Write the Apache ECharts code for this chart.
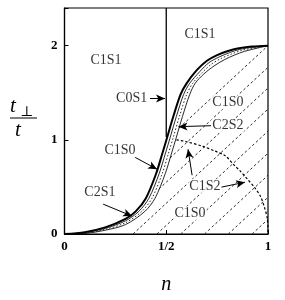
<!DOCTYPE html>
<html><head><meta charset="utf-8">
<script src="https://cdn.jsdelivr.net/npm/echarts@6/dist/echarts.min.js"></script>
<style>html,body{margin:0;padding:0;background:#fff}#c{width:285px;height:300px}</style>
</head><body><div id="c"></div>
<script>
// ---- data ----
var xTickValues = [0, 0.5, 1];
var xTickLabels = ['0', '1/2', '1'];
var yTickValues = [0, 1, 2];
var yTickLabels = ['0', '1', '2'];

// outer (thick) boundary curve
var thickN = [0,0.1,0.2,0.3,0.35,0.4,0.45,0.48,0.505,0.535,0.57,0.6,0.65,0.7,0.75,0.8,0.85,0.92,1];
var thickY = [0,0.02,0.07,0.16,0.24,0.38,0.64,0.85,1.03,1.25,1.48,1.6,1.74,1.84,1.9,1.94,1.97,1.99,2];
// thin curve
var thinBN = [0,0.1,0.2,0.3,0.365,0.415,0.465,0.495,0.52,0.55,0.585,0.615,0.665,0.71,0.76,0.81,0.86,0.93,1];
var thinBY = [0,0.015,0.06,0.14,0.24,0.38,0.64,0.85,1.03,1.25,1.48,1.6,1.725,1.82,1.88,1.925,1.96,1.985,2];
// dotted curve
var dotCN = [0,0.1,0.2,0.3,0.38,0.43,0.48,0.51,0.535,0.565,0.6,0.63,0.675,0.72,0.77,0.82,0.87,0.94,1];
var dotCY = [0,0.01,0.05,0.12,0.24,0.38,0.64,0.85,1.03,1.25,1.48,1.6,1.71,1.8,1.865,1.91,1.95,1.98,2];
// inner thin curve
var thinDN = [0,0.1,0.2,0.3,0.395,0.445,0.495,0.525,0.55,0.58,0.615,0.642,0.685,0.735,0.785,0.835,0.885,0.95,1];
var thinDY = [0,0.006,0.04,0.10,0.24,0.38,0.64,0.85,1.03,1.25,1.48,1.6,1.7,1.785,1.85,1.9,1.94,1.975,2];
// vertical boundary at n = 1/2
var vertN = [0.5, 0.5];
var vertY = [1.03, 2.4];
// C1S2 dashed boundary
var c1s2N = [0.55,0.6,0.68,0.74,0.79,0.83,0.865,0.9,0.933,0.963,0.983,0.997,1.0];
var c1s2Y = [1.0,0.98,0.93,0.88,0.83,0.74,0.665,0.58,0.497,0.40,0.28,0.16,0.02];
// hatch lines: t/t = 2 (n - c)
var hatchSlope = 2;
var hatchC = [0, 0.115, 0.225, 0.337, 0.454, 0.571, 0.688, 0.805, 0.922];

// region labels
var labelText = ['C1S1','C1S1','C0S1','C1S0','C2S2','C1S0','C2S1','C1S2','C1S0'];
var labelN    = [0.204, 0.666, 0.33, 0.803, 0.803, 0.273, 0.174, 0.69, 0.617];
var labelY    = [1.84, 2.12, 1.44, 1.40, 1.15, 0.89, 0.44, 0.51, 0.22];
// annotation arrows [from -> to]
var arrowFromN = [0.42, 0.72, 0.346, 0.19, 0.77, 0.627];
var arrowFromY = [1.44, 1.15, 0.815, 0.317, 0.497, 0.624];
var arrowToN   = [0.494, 0.56, 0.455, 0.332, 0.887, 0.607];
var arrowToY   = [1.44, 1.14, 0.688, 0.19, 0.55, 0.90];
var arrowCurve = [0, 0.12, 0.35, 0.3, 0.05, -0.4];

function zip(a, b) { return a.map(function (v, i) { return [v, b[i]]; }); }

// hatch line start: last crossing with inner curve, else bottom
function hatchSegment(c) {
  var start = [c, 0];
  for (var i = 0; i < thinDN.length - 1; i++) {
    var x1 = thinDN[i], y1 = thinDY[i], x2 = thinDN[i+1], y2 = thinDY[i+1];
    var f1 = y1 - hatchSlope * (x1 - c), f2 = y2 - hatchSlope * (x2 - c);
    if (f1 < 0 && f2 >= 0) {
      var t = f1 / (f1 - f2);
      var xs = x1 + t * (x2 - x1);
      if (xs > c) start = [xs, hatchSlope * (xs - c)];
    }
  }
  return [start, [1, hatchSlope * (1 - c)]];
}

var serif = '"Liberation Serif","DejaVu Serif",serif';
var series = [];
hatchC.forEach(function (c) {
  series.push({ type: 'line', data: hatchSegment(c), symbol: 'none', silent: true,
    lineStyle: { color: '#111', width: 0.9, type: [2.5, 2.5] }, z: 1 });
});
series.push({ type: 'line', data: zip(c1s2N, c1s2Y), symbol: 'none', smooth: 0.3,
  lineStyle: { color: '#000', width: 1.2, type: [2.5, 2] }, z: 2 });
series.push({ type: 'line', data: zip(thinDN, thinDY), symbol: 'none', smooth: 0.3,
  lineStyle: { color: '#111', width: 0.9 }, z: 3 });
series.push({ type: 'line', data: zip(dotCN, dotCY), symbol: 'none', smooth: 0.3,
  lineStyle: { color: '#111', width: 0.9, type: [1.5, 2] }, z: 3 });
series.push({ type: 'line', data: zip(thinBN, thinBY), symbol: 'none', smooth: 0.3,
  lineStyle: { color: '#111', width: 0.9 }, z: 3 });
series.push({ type: 'line', data: zip(thickN, thickY), symbol: 'none', smooth: 0.3,
  lineStyle: { color: '#000', width: 2 }, z: 4 });
series.push({ type: 'line', data: zip(vertN, vertY), symbol: 'none',
  lineStyle: { color: '#000', width: 1.3 }, z: 4 });

// labels
series.push({ type: 'scatter', symbolSize: 0, z: 6,
  data: labelText.map(function (t, i) { return { value: [labelN[i], labelY[i]], name: t }; }),
  label: { show: true, position: 'inside', formatter: '{b}', color: '#000',
    fontFamily: serif, fontSize: 14, backgroundColor: '#fff', padding: [0, 1] }
});
// arrows
series.push({ type: 'line', data: [], z: 5,
  markLine: { silent: true, symbol: ['none', 'arrow'], symbolSize: [6, 9], label: { show: false },
    data: arrowFromN.map(function (v, i) {
      return [{ coord: [v, arrowFromY[i]], lineStyle: { curveness: arrowCurve[i] } },
              { coord: [arrowToN[i], arrowToY[i]] }];
    }),
    lineStyle: { color: '#000', width: 1, type: 'solid' }
  }
});

var chart = echarts.init(document.getElementById('c'), null, { renderer: 'canvas' });
chart.setOption({
  animation: false,
  grid: { left: 64.5, right: 17, top: 8, bottom: 65, show: true, borderColor: '#000', borderWidth: 1.2, backgroundColor: 'transparent' },
  xAxis: { type: 'value', min: 0, max: 1, interval: 0.5,
    axisLine: { show: true, lineStyle: { color: '#000', width: 1.2 } },
    axisTick: { show: true, inside: true, length: 4, lineStyle: { color: '#000' } },
    splitLine: { show: false },
    axisLabel: { margin: 6, color: '#000', fontFamily: serif, fontWeight: 'bold', fontSize: 13,
      formatter: function (v) { var k = xTickValues.indexOf(v); return k < 0 ? '' : xTickLabels[k]; } },
    name: 'n', nameLocation: 'middle', nameGap: 41,
    nameTextStyle: { fontFamily: serif, fontStyle: 'italic', fontSize: 20, color: '#000' }
  },
  yAxis: { type: 'value', min: 0, max: 2.4, interval: 1,
    axisLine: { show: true, lineStyle: { color: '#000', width: 1.2 } },
    axisTick: { show: true, inside: true, length: 4, lineStyle: { color: '#000' } },
    splitLine: { show: false },
    axisLabel: { margin: 7, color: '#000', fontFamily: serif, fontWeight: 'bold', fontSize: 13,
      formatter: function (v) { var k = yTickValues.indexOf(v); return k < 0 ? '' : yTickLabels[k]; } }
  },
  graphic: [
    { type: 'text', left: 10, top: 96, style: { text: 't', fontFamily: serif, fontStyle: 'italic', fontSize: 21, fill: '#000' } },
    { type: 'text', left: 20, top: 105, style: { text: '⊥', fontFamily: serif, fontSize: 14, fill: '#000' } },
    { type: 'line', shape: { x1: 10, y1: 118, x2: 37, y2: 118 }, style: { stroke: '#000', lineWidth: 1 } },
    { type: 'text', left: 15, top: 120, style: { text: 't', fontFamily: serif, fontStyle: 'italic', fontSize: 21, fill: '#000' } }
  ],
  series: series
});
</script></body></html>
